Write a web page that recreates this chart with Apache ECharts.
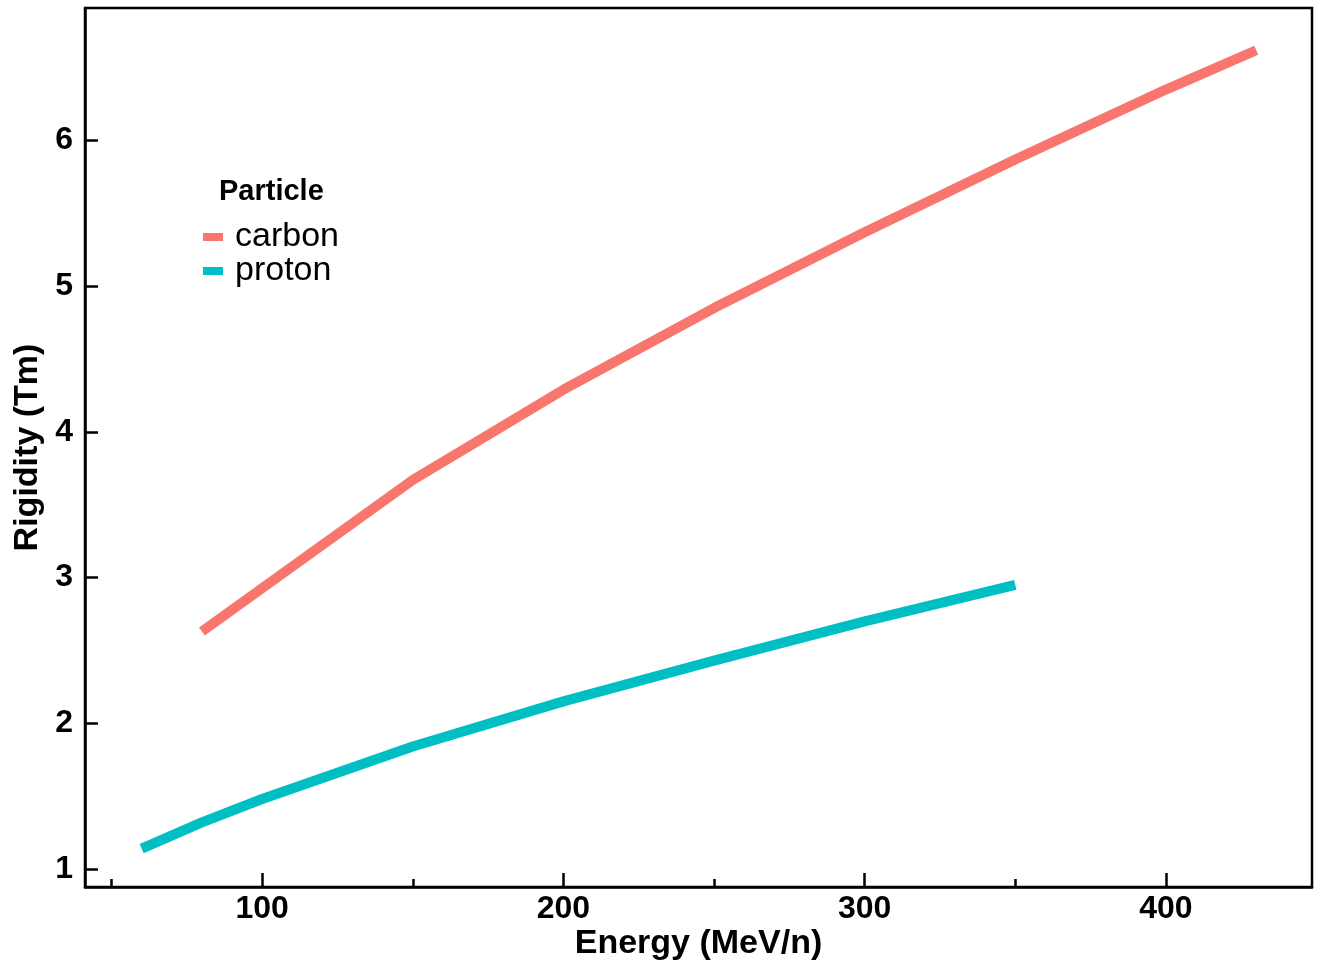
<!DOCTYPE html>
<html>
<head>
<meta charset="utf-8">
<script src="https://cdn.jsdelivr.net/npm/echarts@6/dist/echarts.min.js"></script>
<style>
  html, body { margin: 0; padding: 0; background: #fff; }
  #chart { width: 1324px; height: 968px; }
</style>
</head>
<body>
<div id="chart"></div>
<script>
const carbonEnergy = [80, 150, 200, 250, 300, 350, 400, 430]
const carbonRigidity = [2.63, 3.67, 4.29, 4.85, 5.37, 5.87, 6.35, 6.62]
const protonEnergy = [60, 80, 100, 150, 200, 250, 300, 350]
const protonRigidity = [1.14, 1.32, 1.48, 1.84, 2.15, 2.43, 2.70, 2.95]
const xTicks = [100, 200, 300, 400]
const xMinorTicks = [50, 150, 250, 350]
const yTicks = [1, 2, 3, 4, 5, 6]

const font = 'Liberation Sans, Arial, sans-serif'
const chart = echarts.init(document.getElementById('chart'))

const pairs = (xs, ys) => xs.map((x, i) => [x, ys[i]])

chart.setOption({
  animation: false,
  title: {
    text: 'Particle',
    left: 214,
    top: 172,
    textStyle: { fontFamily: font, fontSize: 29, fontWeight: 'bold', color: '#000' },
  },
  legend: {
    orient: 'vertical',
    left: 198,
    top: 215,
    itemWidth: 20,
    itemHeight: 8,
    itemGap: 0,
    icon: 'rect',
    textStyle: { fontFamily: font, fontSize: 34, color: '#000', padding: [0, 0, 0, 7] },
    data: ['carbon', 'proton'],
  },
  grid: {
    left: 85,
    right: 12,
    top: 8,
    bottom: 81,
    show: true,
    borderColor: '#000',
    borderWidth: 2.5,
    containLabel: false,
    outerBoundsMode: 'none',
  },
  xAxis: [
    {
      type: 'value',
      min: 41.2,
      max: 448.5,
      name: 'Energy (MeV/n)',
      nameLocation: 'middle',
      nameGap: 40,
      nameMoveOverlap: false,
      nameTextStyle: { fontFamily: font, fontSize: 34, fontWeight: 'bold', color: '#000' },
      axisLine: { show: true, lineStyle: { color: '#000', width: 2.5 } },
      axisTick: { show: true, inside: true, length: 14, lineStyle: { color: '#000', width: 2.5 }, customValues: xTicks },
      axisLabel: { fontFamily: font, fontSize: 32, fontWeight: 'bold', color: '#000', margin: 6, customValues: xTicks },
      splitLine: { show: false },
    },
    {
      type: 'value',
      min: 41.2,
      max: 448.5,
      position: 'bottom',
      axisLine: { show: false },
      axisTick: { show: true, inside: true, length: 8, lineStyle: { color: '#000', width: 2.5 }, customValues: xMinorTicks },
      axisLabel: { show: false },
      splitLine: { show: false },
    },
  ],
  yAxis: {
    type: 'value',
    min: 0.876,
    max: 6.91,
    name: 'Rigidity (Tm)',
    nameLocation: 'middle',
    nameGap: 40,
    nameMoveOverlap: false,
    nameTextStyle: { fontFamily: font, fontSize: 34, fontWeight: 'bold', color: '#000' },
    axisLine: { show: true, lineStyle: { color: '#000', width: 2.5 } },
    axisTick: { show: true, inside: true, length: 13, lineStyle: { color: '#000', width: 2.5 }, customValues: yTicks },
    axisLabel: { fontFamily: font, fontSize: 32, fontWeight: 'bold', color: '#000', margin: 12, customValues: yTicks },
    splitLine: { show: false },
  },
  series: [
    {
      name: 'carbon',
      type: 'line',
      data: pairs(carbonEnergy, carbonRigidity),
      showSymbol: false,
      color: '#F8766D',
      lineStyle: { width: 10, color: '#F8766D', cap: 'butt' },
    },
    {
      name: 'proton',
      type: 'line',
      data: pairs(protonEnergy, protonRigidity),
      showSymbol: false,
      color: '#00BFC4',
      lineStyle: { width: 10, color: '#00BFC4', cap: 'butt' },
    },
  ],
})
</script>
</body>
</html>
